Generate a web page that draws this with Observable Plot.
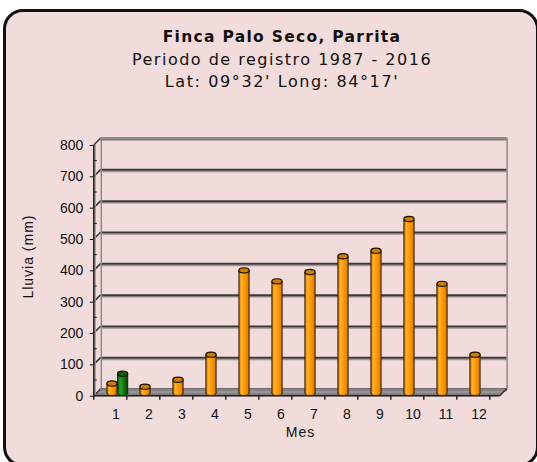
<!DOCTYPE html>
<html><head><meta charset="utf-8">
<script src="https://cdn.jsdelivr.net/npm/d3@7"></script>
<script src="https://cdn.jsdelivr.net/npm/@observablehq/plot@0.6"></script>
<style>
html,body{margin:0;padding:0;width:537px;height:462px;overflow:hidden;background:#fff;}
#box{position:absolute;left:3px;top:9px;width:530px;height:452px;border:3px solid #111;border-radius:20px;background:#f1dbdb;z-index:0;}
#titles{position:relative;z-index:1;width:564px;height:100px;font-family:"DejaVu Sans",sans-serif;color:#111;}
#titles div{position:absolute;left:0;right:0;text-align:center;white-space:nowrap;}
#t1{top:27px;font-weight:bold;font-size:15.5px;line-height:20px;letter-spacing:1.3px;}
#t2{top:50px;font-size:16px;line-height:20px;letter-spacing:1.5px;}
#t3{top:72px;font-size:16px;line-height:20px;letter-spacing:1.6px;}
#chart{position:relative;z-index:1;}
#chart svg g[aria-label="text"] text{letter-spacing:1px;}
</style></head>
<body>
<div id="box"></div>
<div id="titles">
  <div id="t1">Finca Palo Seco, Parrita</div>
  <div id="t2">Periodo de registro 1987 - 2016</div>
  <div id="t3">Lat: 09°32' Long: 84°17'</div>
</div>
<div id="chart"></div>
<script>
// ---- data ----
const months = [1,2,3,4,5,6,7,8,9,10,11,12];
const promedio = [30, 20, 42, 122, 391, 356, 386, 436, 454, 555, 348, 122];
const actualMonths = [1];
const actualValues = [61];
const yTicks = [0,100,200,300,400,500,600,700,800];
const yMinor = [50,150,250,350,450,550,650,750];
const yLabel = "Lluvia (mm)";
const xLabel = "Mes";

const dataProm = months.map((m,i)=>({mes:m, lluvia:promedio[i]}));
const dataAct = actualMonths.map((m,i)=>({mes:m, lluvia:actualValues[i]}));

const DX = 7, DY = -7;
const BAR_INSET = 11.4;

const plot = Plot.plot({
  width: 537, height: 362,
  marginTop: 45, marginBottom: 66.3, marginLeft: 93.8, marginRight: 37.4,
  style: {background:"transparent", fontFamily:"'Liberation Sans', Arial, sans-serif", fontSize:"14px", color:"#111", overflow:"visible"},
  x: {type:"band", domain: months, padding: 0},
  y: {domain: [0, 800]},
  marks: [
    Plot.ruleY(yTicks, {dx: DX, dy: DY + 1.6, stroke: "#a39595", strokeWidth: 1.4}),
    Plot.ruleY(yTicks, {dx: DX, dy: DY, stroke: "#3a3a3a", strokeWidth: 2}),
    Plot.frame({dx: DX, dy: DY, stroke: "#8a8a8a", strokeWidth: 1.5}),
    Plot.axisY({ticks: yTicks, tickSize: 4, tickPadding: 7, label: null, tickFormat: d => String(d)}),
    Plot.axisX({tickSize: 0, tickPadding: 12.5, label: null}),
    Plot.barY(dataProm, {x:"mes", y:"lluvia", fill:"url(#gradO)", insetLeft: BAR_INSET, insetRight: BAR_INSET, dx: -3.5, dy: -2.8}),
    Plot.barY(dataAct, {x:"mes", y:"lluvia", fill:"url(#gradG)", insetLeft: BAR_INSET, insetRight: BAR_INSET, dx: 7.1, dy: -2.8}),
    Plot.text([yLabel], {frameAnchor:"left", rotate:-90, textAnchor:"middle", lineAnchor:"middle", dx:-65.8, dy:-14.3, fontSize:14, fill:"#111"}),
    Plot.text([xLabel], {frameAnchor:"bottom", textAnchor:"middle", lineAnchor:"middle", dx:3.3, dy:36, fontSize:14, fill:"#111"})
  ]
});
document.getElementById("chart").appendChild(plot);

// ---- 3D decoration, drawn through the plot's scales ----
const svg = d3.select(plot);
const xs = plot.scale("x"), ys = plot.scale("y");
const x0 = xs.range[0], x1 = xs.range[1], step = xs.step ?? (x1 - x0) / months.length;
const yb = ys.apply(0), yt = ys.apply(800);

const defs = svg.insert("defs", ":first-child");
function grad(id, stops){
  const g = defs.append("linearGradient").attr("id", id).attr("x1",0).attr("x2",1).attr("y1",0).attr("y2",0);
  stops.forEach(([o,c]) => g.append("stop").attr("offset", o).attr("stop-color", c));
}
grad("gradO", [[0,"#b86800"],[0.22,"#ffb22e"],[0.5,"#ff9e0a"],[0.85,"#e58600"],[1,"#a85c00"]]);
grad("gradG", [[0,"#0a4a0a"],[0.25,"#2c9e2c"],[0.55,"#168416"],[1,"#083e08"]]);

const back = svg.insert("g", "g");
back.append("path")
  .attr("d", `M${x0},${yb}L${x1},${yb}L${x1+DX},${yb+DY}L${x0+DX},${yb+DY}Z`)
  .attr("fill", "#969494").attr("stroke", "#6d6d6d").attr("stroke-width", 1);
back.append("line").attr("x1", x0 + 2).attr("x2", x1 + 2).attr("y1", yb - 1.5).attr("y2", yb - 1.5)
  .attr("stroke", "#7a7a7a").attr("stroke-width", 1.5);
// left wall slants
yTicks.forEach(v => {
  back.append("line").attr("x1", x0).attr("y1", ys.apply(v)).attr("x2", x0 + DX).attr("y2", ys.apply(v) + DY)
    .attr("stroke", "#3a3a3a").attr("stroke-width", 1.6);
});
back.append("line").attr("x1", x0 + 1.5).attr("x2", x0 + 1.5).attr("y1", yt).attr("y2", yb)
  .attr("stroke", "#9a9a9a").attr("stroke-width", 1.2);

const front = svg.append("g");
front.append("line").attr("x1", x0).attr("x2", x1).attr("y1", yb).attr("y2", yb).attr("stroke", "#222").attr("stroke-width", 1.6);
front.append("line").attr("x1", x1).attr("y1", yb).attr("x2", x1 + DX).attr("y2", yb + DY).attr("stroke", "#333").attr("stroke-width", 1.4);
front.append("line").attr("x1", x0).attr("x2", x0).attr("y1", yt).attr("y2", yb).attr("stroke", "#222").attr("stroke-width", 1.6);
yMinor.forEach(v => {
  front.append("line").attr("x1", x0).attr("x2", x0 + 3).attr("y1", ys.apply(v)).attr("y2", ys.apply(v)).attr("stroke", "#222");
});
for (let k = 0; k <= months.length; k++) {
  const xx = x0 + k * step;
  front.append("line").attr("x1", xx).attr("x2", xx).attr("y1", yb).attr("y2", yb + 4).attr("stroke", "#222").attr("stroke-width", 1.4);
}

// cylinders
svg.selectAll('g[aria-label="bar"]').each(function(){
  const g = d3.select(this);
  const green = (g.attr("fill") || "").includes("gradG");
  const edge = green ? "#062806" : "#3a2200";
  const cap = green ? "#0e5c0e" : "#d27c00";
  g.selectAll("rect").each(function(){
    const r = d3.select(this);
    const x = +r.attr("x"), y = +r.attr("y"), w = +r.attr("width"), h = +r.attr("height");
    const cx = x + w/2, ry = 2.6;
    r.attr("stroke", "none");
    g.insert("ellipse", () => this).attr("cx", cx).attr("cy", y + h).attr("rx", w/2).attr("ry", ry)
      .attr("stroke", edge).attr("stroke-width", 1);
    g.append("line").attr("x1", x).attr("x2", x).attr("y1", y).attr("y2", y + h).attr("stroke", edge).attr("stroke-width", 1);
    g.append("line").attr("x1", x + w).attr("x2", x + w).attr("y1", y).attr("y2", y + h).attr("stroke", edge).attr("stroke-width", 1);
    g.append("ellipse").attr("cx", cx).attr("cy", y).attr("rx", w/2).attr("ry", ry)
      .attr("fill", cap).attr("stroke", "#1a1000").attr("stroke-width", 1.2);
  });
});
</script>
</body></html>
